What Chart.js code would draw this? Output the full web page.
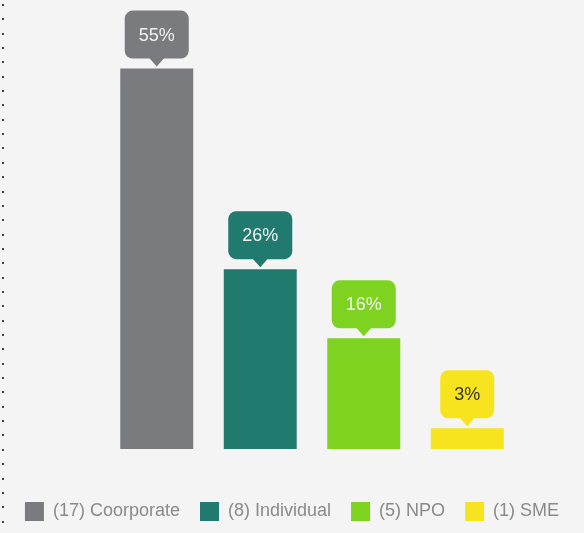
<!DOCTYPE html>
<html>
<head>
<meta charset="utf-8">
<script src="https://cdn.jsdelivr.net/npm/chart.js@4/dist/chart.umd.min.js"></script>
<style>
  html, body {
    margin: 0;
    padding: 0;
    background: #f4f4f4;
    overflow: hidden;
  }
  .chart-wrapper {
    position: relative;
    width: 584px;
    height: 533px;
  }
  /* dotted rule down the left edge of the panel */
  .dots {
    position: absolute;
    left: 2px;
    top: 4px;
    width: 2px;
    height: 529px;
    background: repeating-linear-gradient(to bottom, #444 0px, #444 2px, transparent 2px, transparent 14.35px);
  }
</style>
</head>
<body>
<div class="chart-wrapper">
  <div class="dots"></div>
  <canvas id="segment-chart"></canvas>
</div>
<script>
var categories = ["Coorporate", "Individual", "NPO", "SME"];
var counts = [17, 8, 5, 1];
var percentages = [55, 26, 16, 3];
var bar_colors = ["#7a7b7f", "#217a6e", "#7dd320", "#f7e31e"];
var label_colors = ["#f2f2f2", "#f2f2f2", "#f2f2f2", "#333333"];

var legend_text_color = "#8a8a8a";

// Draws the little speech bubble with the percentage above every bar
var calloutPlugin = {
  id: "callouts",
  afterDatasetsDraw: function(chart) {
    var ctx = chart.ctx;
    var meta = chart.getDatasetMeta(0);
    ctx.save();
    ctx.font = "18px 'Liberation Sans', Arial, sans-serif";
    ctx.textAlign = "center";
    ctx.textBaseline = "middle";
    meta.data.forEach(function(bar, i) {
      var text = percentages[i] + "%";
      var w = ctx.measureText(text).width + 28;
      var h = 48;
      var bottom = bar.y - 10;
      var left = bar.x - w / 2;
      var top = bottom - h;

      ctx.fillStyle = bar_colors[i];
      ctx.beginPath();
      ctx.roundRect(left, top, w, h, 8);
      ctx.fill();

      // pointer
      ctx.beginPath();
      ctx.moveTo(bar.x - 8, bottom - 1);
      ctx.lineTo(bar.x + 8, bottom - 1);
      ctx.lineTo(bar.x, bottom + 8);
      ctx.closePath();
      ctx.fill();

      ctx.fillStyle = label_colors[i];
      ctx.fillText(text, bar.x, top + h / 2 + 1);
    });
    ctx.restore();
  }
};

function createChart() {
  var ctx = document.getElementById("segment-chart").getContext("2d");
  return new Chart(ctx, {
    type: "bar",
    data: {
      labels: categories,
      datasets: [{
        data: percentages,
        backgroundColor: bar_colors,
        borderWidth: 0,
        categoryPercentage: 1,
        barPercentage: 0.705
      }]
    },
    options: {
      responsive: true,
      maintainAspectRatio: false,
      animation: false,
      layout: {
        padding: { top: 34, bottom: 2, left: 0, right: 0 }
      },
      scales: {
        x: {
          display: true,
          grid: { display: false },
          border: { display: false },
          ticks: { display: false },
          afterFit: function(scale) { scale.height = 33; }
        },
        y: {
          display: true,
          min: 0,
          max: 60,
          grid: { display: false },
          border: { display: false },
          ticks: { display: false },
          afterFit: function(scale) { scale.width = 105; }
        },
        yRight: {
          display: true,
          position: "right",
          grid: { display: false },
          border: { display: false },
          ticks: { display: false },
          afterFit: function(scale) { scale.width = 65; }
        }
      },
      plugins: {
        tooltip: { enabled: false },
        legend: {
          display: true,
          position: "bottom",
          labels: {
            boxWidth: 19,
            boxHeight: 19,
            padding: 20,
            color: legend_text_color,
            font: { family: "'Liberation Sans', Arial, sans-serif", size: 18 },
            generateLabels: function() {
              return categories.map(function(name, i) {
                return {
                  text: "(" + counts[i] + ") " + name,
                  fillStyle: bar_colors[i],
                  strokeStyle: bar_colors[i],
                  lineWidth: 0,
                  fontColor: legend_text_color,
                  hidden: false,
                  index: i
                };
              });
            }
          },
          onClick: function() {}
        }
      }
    },
    plugins: [calloutPlugin]
  });
}

var segmentChart = createChart();
</script>
</body>
</html>
